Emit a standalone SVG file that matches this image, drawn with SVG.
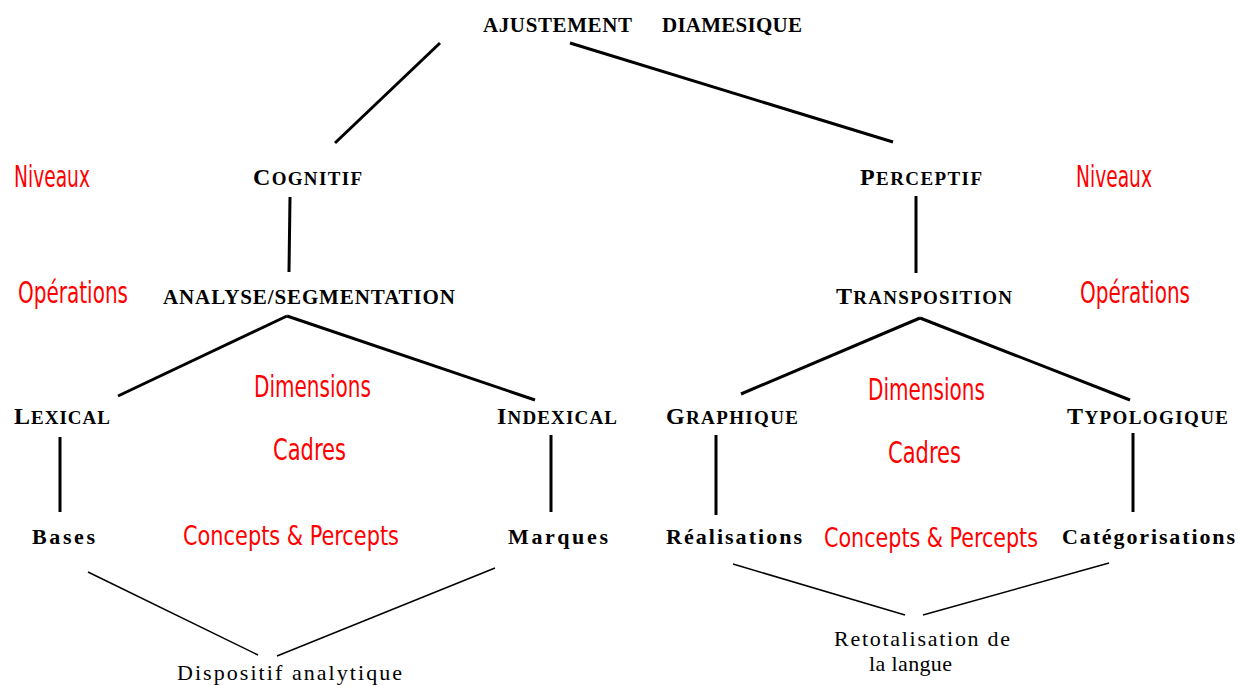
<svg xmlns="http://www.w3.org/2000/svg" width="1238" height="686" viewBox="0 0 1238 686">
<style>
.h{font-family:"Liberation Serif","Times New Roman",serif;font-weight:bold;fill:#000;font-size:19px}
.a{font-size:21px}
.b{font-size:24px}
.w{font-family:"Liberation Serif","Times New Roman",serif;font-weight:bold;fill:#000;font-size:22px}
.r{font-family:"Liberation Sans Narrow","DejaVu Sans Condensed","Liberation Sans",sans-serif;fill:#ff0000;font-size:30px}
.c{font-size:27px}
.n{font-family:"Liberation Serif","Times New Roman",serif;fill:#000;font-size:22px}
.thick{stroke:#000;stroke-width:3;fill:none}
.thin{stroke:#000;stroke-width:1.5;fill:none}
</style>
<rect width="1238" height="686" fill="#fff"/>
<g id="connectors">
<line class="thick" x1="440" y1="43" x2="335" y2="143"/>
<line class="thick" x1="570" y1="43" x2="893" y2="142"/>
<line class="thick" x1="290" y1="197" x2="289" y2="272"/>
<line class="thick" x1="916" y1="196" x2="916" y2="273"/>
<line class="thick" x1="287" y1="316" x2="118" y2="396"/>
<line class="thick" x1="287" y1="316" x2="535" y2="400"/>
<line class="thick" x1="920" y1="318" x2="741" y2="394"/>
<line class="thick" x1="920" y1="318" x2="1130" y2="400"/>
<line class="thick" x1="60" y1="437" x2="60" y2="512"/>
<line class="thick" x1="551" y1="435" x2="551" y2="512"/>
<line class="thick" x1="716" y1="435" x2="716" y2="515"/>
<line class="thick" x1="1133" y1="433" x2="1133" y2="512"/>
<line class="thin" x1="88" y1="572" x2="258" y2="655"/>
<line class="thin" x1="495" y1="568" x2="277" y2="656"/>
<line class="thin" x1="733" y1="564" x2="905" y2="615"/>
<line class="thin" x1="1109" y1="563" x2="923" y2="615"/>
</g>
<g id="ajustement"><text class="h a" x="483" y="32" textLength="149">AJUSTEMENT</text><text class="h a" x="662" y="32" textLength="140">DIAMESIQUE</text></g>
<g id="cognitif"><text class="h" x="253" y="185" textLength="109"><tspan class="b">C</tspan>OGNITIF</text></g>
<g id="perceptif"><text class="h" x="860" y="185" textLength="122"><tspan class="b">P</tspan>ERCEPTIF</text></g>
<g id="analyse"><text class="h a" x="163" y="304" textLength="292">ANALYSE/SEGMENTATION</text></g>
<g id="transposition"><text class="h" x="836" y="304" textLength="176"><tspan class="b">T</tspan>RANSPOSITION</text></g>
<g id="lexical"><text class="h" x="14" y="424" textLength="96"><tspan class="b">L</tspan>EXICAL</text></g>
<g id="indexical"><text class="h" x="497" y="424" textLength="120"><tspan class="b">I</tspan>NDEXICAL</text></g>
<g id="graphique"><text class="h" x="666" y="424" textLength="132"><tspan class="b">G</tspan>RAPHIQUE</text></g>
<g id="typologique"><text class="h" x="1067" y="424" textLength="161"><tspan class="b">T</tspan>YPOLOGIQUE</text></g>
<g id="bases"><text class="w" x="32" y="544" textLength="63">Bases</text></g>
<g id="marques"><text class="w" x="508" y="544" textLength="100">Marques</text></g>
<g id="realisations"><text class="w" x="666" y="544" textLength="136">Réalisations</text></g>
<g id="categorisations"><text class="w" x="1062" y="544" textLength="173">Catégorisations</text></g>
<g id="dispositif"><text class="n" x="177" y="680" textLength="225">Dispositif analytique</text></g>
<g id="retotalisation"><text class="n" x="834" y="646" textLength="176">Retotalisation de</text><text class="n" x="869" y="671" textLength="83">la langue</text></g>
<g id="labels">
<text class="r" x="14" y="187" textLength="76" lengthAdjust="spacingAndGlyphs">Niveaux</text>
<text class="r" x="1076" y="187" textLength="76" lengthAdjust="spacingAndGlyphs">Niveaux</text>
<text class="r" x="18" y="303" textLength="110" lengthAdjust="spacingAndGlyphs">Opérations</text>
<text class="r" x="1080" y="303" textLength="110" lengthAdjust="spacingAndGlyphs">Opérations</text>
<text class="r" x="254" y="397" textLength="117" lengthAdjust="spacingAndGlyphs">Dimensions</text>
<text class="r" x="868" y="400" textLength="117" lengthAdjust="spacingAndGlyphs">Dimensions</text>
<text class="r" x="273" y="460" textLength="73" lengthAdjust="spacingAndGlyphs">Cadres</text>
<text class="r" x="888" y="463" textLength="73" lengthAdjust="spacingAndGlyphs">Cadres</text>
<text class="r c" x="183" y="545" textLength="216" lengthAdjust="spacingAndGlyphs">Concepts &amp; Percepts</text>
<text class="r c" x="824" y="547" textLength="214" lengthAdjust="spacingAndGlyphs">Concepts &amp; Percepts</text>
</g>
</svg>
